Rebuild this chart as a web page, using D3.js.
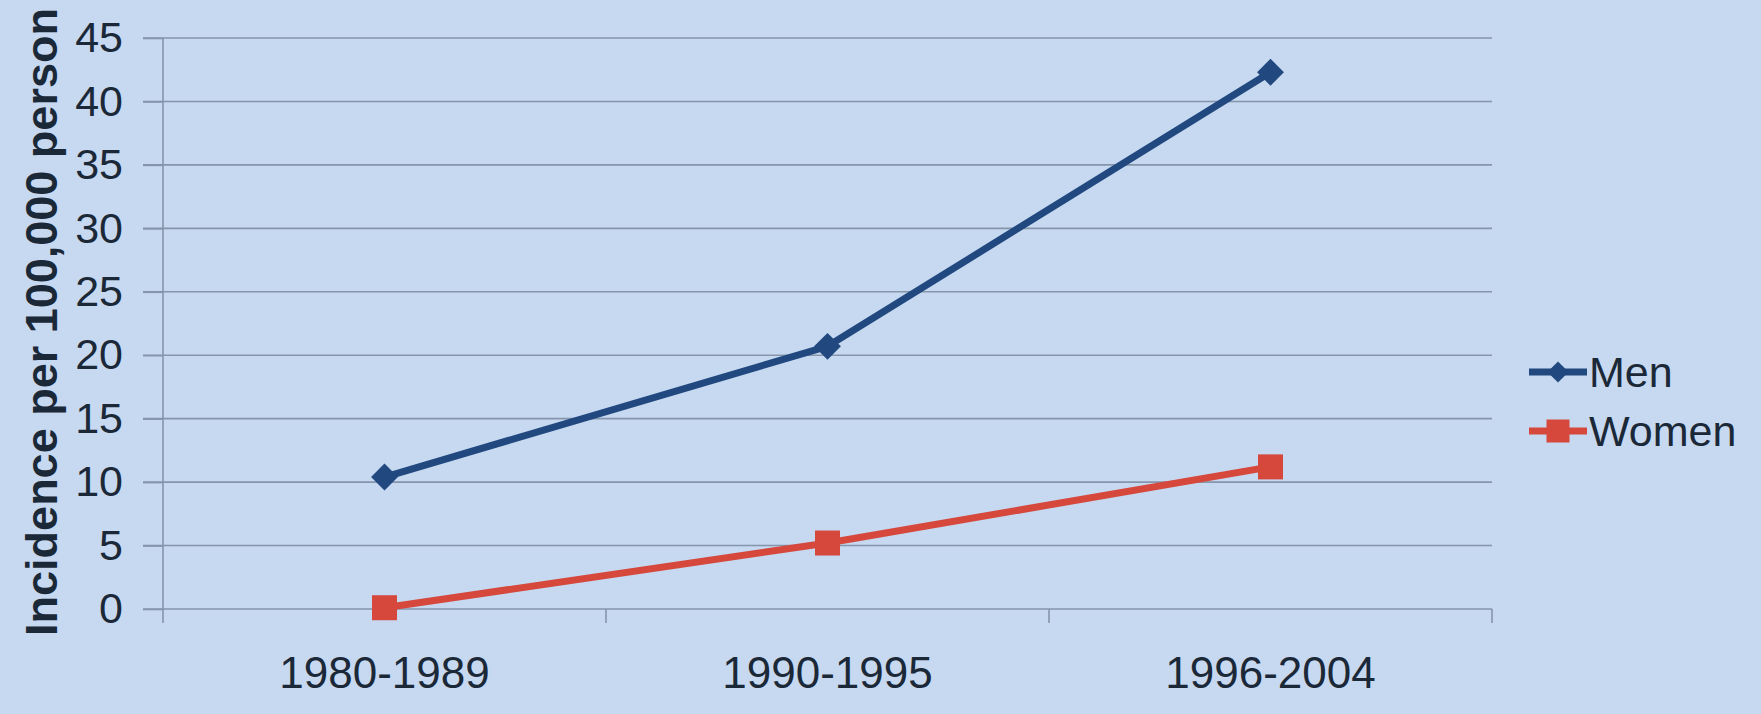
<!DOCTYPE html>
<html>
<head>
<meta charset="utf-8">
<script src="https://cdn.jsdelivr.net/npm/d3@7"></script>
<style>
  html, body { margin: 0; padding: 0; background: #c6d9f0; }
  svg { display: block; }
  text { font-family: "Liberation Sans", Arial, sans-serif; fill: #1b2838; }
</style>
</head>
<body>
<svg id="chart" width="1761" height="714"></svg>
<script>
// Incidence per 100,000 persons by period
const periods = ["1980-1989", "1990-1995", "1996-2004"];
const menValues = [10.4, 20.7, 42.3];
const womenValues = [0.1, 5.2, 11.2];
const seriesNames = ["Men", "Women"];
const yTickValues = [0, 5, 10, 15, 20, 25, 30, 35, 40, 45];

const W = 1761, H = 714;
const plot = { left: 163, right: 1492, top: 38, bottom: 609 };
const colors = { Men: "#21497f", Women: "#d6473c" };
const gridColor = "#8595ab";

const svg = d3.select("#chart");
svg.append("rect").attr("width", W).attr("height", H).attr("fill", "#c6d9f0");

const x = d3.scaleBand().domain(periods).range([plot.left, plot.right]).padding(0);
const y = d3.scaleLinear().domain([0, 45]).range([plot.bottom, plot.top]);

// horizontal gridlines (extend past the axis as tick marks)
svg.append("g").selectAll("line").data(yTickValues).join("line")
  .attr("x1", plot.left - 20).attr("x2", plot.right)
  .attr("y1", d => y(d)).attr("y2", d => y(d))
  .attr("stroke", gridColor).attr("stroke-width", 1.6);

// y axis labels
const yAxis = svg.append("g")
  .attr("transform", `translate(${plot.left},0)`)
  .call(d3.axisLeft(y).tickValues(yTickValues).tickSize(20).tickPadding(20));
yAxis.select(".domain").remove();
yAxis.selectAll(".tick line").attr("stroke", gridColor).attr("stroke-width", 1.6);
yAxis.selectAll(".tick text")
  .attr("font-size", 43).attr("fill", "#1b2838")
  .attr("font-family", "Liberation Sans, Arial, sans-serif");

// vertical axis line
svg.append("line")
  .attr("x1", plot.left).attr("x2", plot.left)
  .attr("y1", plot.top).attr("y2", plot.bottom + 14)
  .attr("stroke", gridColor).attr("stroke-width", 1.6);

// category boundary ticks
const bounds = periods.map(p => x(p)).concat([x(periods[periods.length - 1]) + x.bandwidth()]);
svg.append("g").selectAll("line").data(bounds.slice(1)).join("line")
  .attr("x1", d => d).attr("x2", d => d)
  .attr("y1", plot.bottom).attr("y2", plot.bottom + 14)
  .attr("stroke", gridColor).attr("stroke-width", 1.6);

// x axis labels
const xAxis = svg.append("g")
  .attr("transform", `translate(0,${plot.bottom})`)
  .call(d3.axisBottom(x).tickSize(0).tickPadding(48));
xAxis.select(".domain").remove();
xAxis.selectAll(".tick text")
  .attr("font-size", 44).attr("fill", "#1b2838")
  .attr("font-family", "Liberation Sans, Arial, sans-serif");

// y axis title
svg.append("text")
  .attr("transform", `translate(57,322) rotate(-90)`)
  .attr("text-anchor", "middle")
  .attr("font-size", 45).attr("font-weight", "bold")
  .text("Incidence per 100,000 person");

// marker shapes: the diamond is a square turned 45 degrees
const markerPath = side => d3.symbol().type(d3.symbolSquare).size(side * side)();
const markerRotation = { Men: 45, Women: 0 };

const series = [
  { name: seriesNames[0], values: menValues, side: 19, legendSide: 15 },
  { name: seriesNames[1], values: womenValues, side: 25, legendSide: 23 }
];

const line = d3.line()
  .x((d, i) => x(periods[i]) + x.bandwidth() / 2)
  .y(d => y(d));

series.forEach(s => {
  svg.append("path")
    .datum(s.values)
    .attr("d", line)
    .attr("fill", "none")
    .attr("stroke", colors[s.name])
    .attr("stroke-width", 7)
    .attr("stroke-linejoin", "round");
  svg.append("g").selectAll("path").data(s.values).join("path")
    .attr("transform", (d, i) =>
      `translate(${x(periods[i]) + x.bandwidth() / 2},${y(d)}) rotate(${markerRotation[s.name]})`)
    .attr("d", markerPath(s.side))
    .attr("fill", colors[s.name]);
});

// legend
const legend = svg.append("g");
series.forEach((s, i) => {
  const ly = 372 + i * 59;
  legend.append("line")
    .attr("x1", 1529).attr("x2", 1587).attr("y1", ly).attr("y2", ly)
    .attr("stroke", colors[s.name]).attr("stroke-width", 7);
  legend.append("path")
    .attr("transform", `translate(1558,${ly}) rotate(${markerRotation[s.name]})`)
    .attr("d", markerPath(s.legendSide))
    .attr("fill", colors[s.name]);
  legend.append("text")
    .attr("x", 1589).attr("y", ly)
    .attr("dy", "0.36em")
    .attr("font-size", 43)
    .text(s.name);
});
</script>
</body>
</html>
